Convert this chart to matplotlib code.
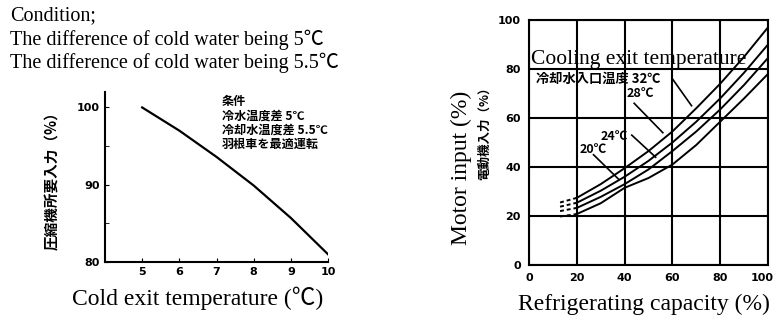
import numpy as np
import matplotlib.pyplot as plt
from matplotlib.transforms import ScaledTranslation

# left chart: compressor input vs cold water exit temperature
temp_x = [5, 6, 7, 8, 9, 10]
comp_input = [100, 97.0, 93.6, 89.9, 85.7, 81.0]

# right chart: motor input vs refrigerating capacity, per cooling water inlet temperature
cap_x = [13, 20, 30, 40, 50, 60, 70, 80, 90, 100]
motor_32 = [25.5, 27.4, 33.0, 39.5, 46.5, 54.5, 64.0, 74.0, 85.0, 97.0]
motor_28 = [23.8, 25.4, 30.3, 36.0, 42.5, 50.0, 58.5, 68.0, 78.5, 90.0]
motor_24 = [22.0, 23.3, 27.8, 33.0, 39.0, 46.5, 54.5, 63.5, 73.5, 84.5]
motor_20 = [19.8, 20.8, 25.2, 31.5, 35.5, 41.0, 49.0, 58.5, 68.0, 78.0]
curve_labels = ['32℃', '28℃', '24℃', '20℃']

serif = ['Liberation Serif', 'Noto Sans CJK JP']
cjk = ['Noto Sans CJK JP', 'DejaVu Sans']

fig = plt.figure(figsize=(7.76, 3.21), dpi=100)

# header text
fig.text(0.013, 0.95, 'Condition;', fontsize=14.5, family=serif, va='center')
fig.text(0.013, 0.876, 'The difference of cold water being 5℃', fontsize=14.5, family=serif, va='center')
fig.text(0.013, 0.805, 'The difference of cold water being 5.5℃', fontsize=14.5, family=serif, va='center')

# ---- left chart
ax1 = fig.add_axes([0.1353, 0.1838, 0.2874, 0.5296])
ax1.plot(temp_x, comp_input, color='black', lw=1.6)
ax1.set_xlim(4, 10)
ax1.set_ylim(80, 102)
ax1.spines['top'].set_visible(False)
ax1.spines['right'].set_visible(False)
ax1.spines['left'].set_linewidth(1.5)
ax1.spines['bottom'].set_linewidth(1.5)
ax1.set_xticks([5, 6, 7, 8, 9, 10])
ax1.set_yticks([80, 90, 100])
ax1.set_yticks([85, 95], minor=True)
ax1.tick_params(direction='in', length=3, labelsize=8)
ax1.tick_params(which='minor', direction='in', length=3)
for lab in ax1.get_xticklabels() + ax1.get_yticklabels():
    lab.set_fontweight('bold')
ax1.set_ylabel('圧縮機所要入力（%）', fontsize=10.5, family=cjk, fontweight='bold', labelpad=12)
ax1.text(0.525, 0.98, '条件\n冷水温度差 5℃\n冷却水温度差 5.5℃\n羽根車を最適運転',
         transform=ax1.transAxes, fontsize=8.7, family=cjk, fontweight='bold',
         va='top', ha='left', linespacing=1.1)
fig.text(0.255, 0.072, 'Cold exit temperature (℃)', fontsize=17, family=serif,
         va='center', ha='center')

# ---- right chart
ax2 = fig.add_axes([0.6817, 0.1745, 0.308, 0.7632])
series = [motor_32, motor_28, motor_24, motor_20]
for ys in series:
    ax2.plot(cap_x[:2], ys[:2], color='black', lw=1.4, ls=(0, (2, 1.5)))
    ax2.plot(cap_x[1:], ys[1:], color='black', lw=1.4)
ax2.set_xlim(0, 100)
ax2.set_ylim(0, 100)
ax2.set_xticks([0, 20, 40, 60, 80, 100])
ax2.set_yticks([0, 20, 40, 60, 80, 100])
ax2.grid(True, color='black', lw=1.5)
for s in ax2.spines.values():
    s.set_linewidth(1.5)
ax2.tick_params(length=0, labelsize=8, pad=6)
for lab in ax2.get_xticklabels() + ax2.get_yticklabels():
    lab.set_fontweight('bold')
# keep the last x label inside the figure
last = ax2.get_xticklabels()[-1]
last.set_horizontalalignment('right')
last.set_transform(last.get_transform() + ScaledTranslation(4 / 72, 0, fig.dpi_scale_trans))

# leader lines and labels
ax2.text(3, 76, '冷却水入口温度 ' + curve_labels[0], fontsize=9.5, family=cjk,
         fontweight='bold', va='center')
ax2.plot([60, 68], [76, 65], color='black', lw=1.2)
ax2.text(41, 70, curve_labels[1], fontsize=9, family=cjk, fontweight='bold', va='center')
ax2.plot([44, 56], [66, 54], color='black', lw=1.2)
ax2.text(30, 52.5, curve_labels[2], fontsize=9, family=cjk, fontweight='bold', va='center')
ax2.plot([43, 53], [53, 44], color='black', lw=1.2)
ax2.text(21, 47, curve_labels[3], fontsize=9, family=cjk, fontweight='bold', va='center')
ax2.plot([27, 37.5], [45, 35], color='black', lw=1.2)

ax2.text(1, 84, 'Cooling exit temperature', fontsize=15.5, family=serif, va='center', ha='left')

fig.text(0.83, 0.053, 'Refrigerating capacity (%)', fontsize=17, family=serif,
         va='center', ha='center')
fig.text(0.595, 0.477, 'Motor input (%)', fontsize=17, family=serif, rotation=90,
         va='center', ha='center')
fig.text(0.625, 0.595, '電動機入力（%）', fontsize=9, family=cjk, fontweight='bold',
         rotation=90, va='center', ha='center')

fig.savefig('out.png', dpi=100)
